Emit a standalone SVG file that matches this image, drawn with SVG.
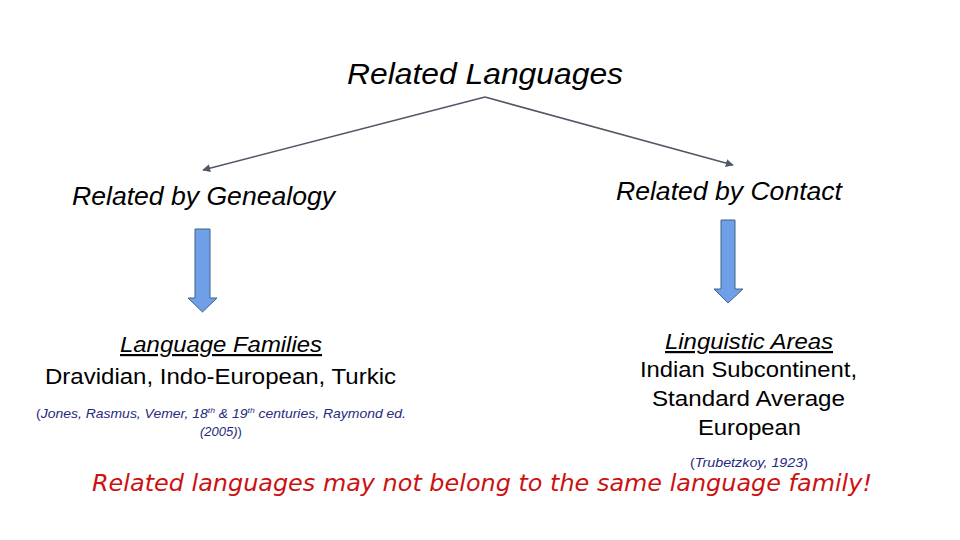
<svg xmlns="http://www.w3.org/2000/svg" width="960" height="540" viewBox="0 0 960 540">
<style>
.t{font-family:"Liberation Sans",Arial,sans-serif;fill:#000}
.i{font-style:italic}
.cite{font-family:"Liberation Sans",Arial,sans-serif;fill:#1f2a80;font-size:13px}
.blk{fill:#6f9fe6;stroke:#41628f;stroke-width:1}
.con{stroke:#4f5864;stroke-width:1.6;fill:none}
</style>
<defs>
<marker id="ah" viewBox="0 0 10 10" refX="9" refY="5" markerWidth="5" markerHeight="5" orient="auto" markerUnits="strokeWidth">
<path d="M0,0 L10,5 L0,10 z" fill="#4f5864"/>
</marker>
</defs>
<rect width="960" height="540" fill="#fff"/>
<g id="connectors">
<line class="con" x1="485" y1="97" x2="203" y2="170" marker-end="url(#ah)"/>
<line class="con" x1="485" y1="97" x2="733" y2="165" marker-end="url(#ah)"/>
<path class="blk" d="M195,229 H210 V298 H217 L202.5,312 L188,298 H195 Z"/>
<path class="blk" d="M721,220 H735 V289 H743 L728,303 L714,289 H721 Z"/>
</g>
<g id="root">
<text class="t i" x="347" y="84" font-size="29" textLength="276" lengthAdjust="spacingAndGlyphs">Related Languages</text>
</g>
<g id="genealogy">
<text class="t i" x="72" y="205" font-size="25" textLength="263" lengthAdjust="spacingAndGlyphs">Related by Genealogy</text>
</g>
<g id="contact">
<text class="t i" x="616" y="200" font-size="25" textLength="226" lengthAdjust="spacingAndGlyphs">Related by Contact</text>
</g>
<g id="families">
<text class="t i" x="120" y="352" font-size="22" text-decoration="underline" textLength="202" lengthAdjust="spacingAndGlyphs">Language Families</text>
<text class="t" x="45" y="384" font-size="22" textLength="351" lengthAdjust="spacingAndGlyphs">Dravidian, Indo-European, Turkic</text>
<text class="cite" x="36" y="418" textLength="370" lengthAdjust="spacingAndGlyphs">(<tspan font-style="italic">Jones, Rasmus, Vemer, 18<tspan font-size="8" dy="-5">th</tspan><tspan dy="5"> &amp; 19</tspan><tspan font-size="8" dy="-5">th</tspan><tspan dy="5"> centuries, Raymond ed.</tspan></tspan></text>
<text class="cite" x="221" y="436" text-anchor="middle"><tspan font-style="italic">(2005)</tspan>)</text>
</g>
<g id="areas">
<text class="t i" x="665" y="349" font-size="22" text-decoration="underline" textLength="168" lengthAdjust="spacingAndGlyphs">Linguistic Areas</text>
<text class="t" x="640" y="377" font-size="22" textLength="217" lengthAdjust="spacingAndGlyphs">Indian Subcontinent,</text>
<text class="t" x="652" y="406" font-size="22" textLength="193" lengthAdjust="spacingAndGlyphs">Standard Average</text>
<text class="t" x="698" y="435" font-size="22" textLength="103" lengthAdjust="spacingAndGlyphs">European</text>
<text class="cite" x="690" y="467" style="font-size:12px" textLength="118" lengthAdjust="spacingAndGlyphs">(<tspan font-style="italic">Trubetzkoy, 1923</tspan>)</text>
</g>
<g id="note">
<text x="92" y="491" font-family="'DejaVu Sans',Verdana,sans-serif" font-style="italic" font-size="23" fill="#cc1111" textLength="780" lengthAdjust="spacingAndGlyphs">Related languages may not belong to the same language family!</text>
</g>
</svg>
